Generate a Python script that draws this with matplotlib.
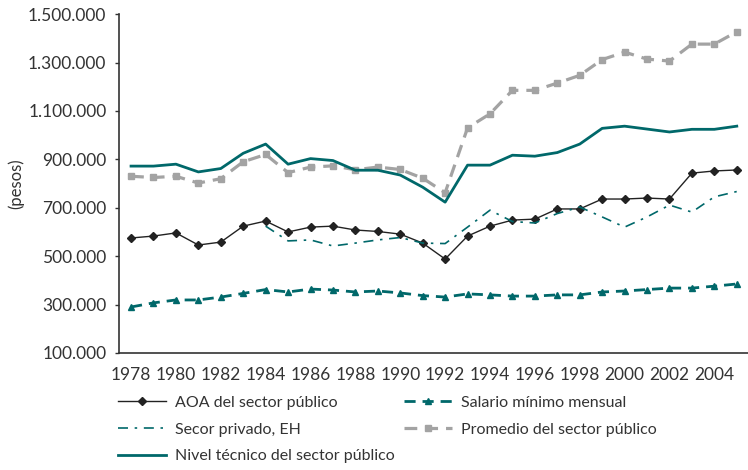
import matplotlib
matplotlib.use("Agg")
import matplotlib.pyplot as plt
from matplotlib.ticker import FuncFormatter

years = list(range(1978, 2006))

aoa = [575, 583, 596, 546, 558, 624, 645, 600, 620, 624, 608, 602, 591, 554, 488,
       583, 624, 649, 653, 695, 695, 736, 736, 740, 736, 843, 852, 856]
salario = [290, 307, 319, 319, 331, 346, 362, 352, 364, 360, 352, 356, 348, 337, 331,
           344, 340, 335, 335, 340, 340, 352, 356, 362, 368, 368, 376, 385]
privado_years = list(range(1984, 2006))
privado = [624, 563, 567, 542, 554, 567, 577, 554, 552, 620, 690, 643, 637, 676, 703,
           662, 620, 662, 711, 682, 745, 767]
promedio = [830, 825, 830, 802, 820, 890, 920, 845, 868, 873, 857, 868, 858, 822, 762,
            1030, 1088, 1185, 1185, 1215, 1247, 1312, 1343, 1314, 1306, 1376, 1376, 1427]
nivel = [872, 872, 880, 848, 862, 925, 963, 880, 903, 895, 855, 855, 835, 785, 723,
         876, 876, 917, 913, 928, 963, 1028, 1037, 1025, 1013, 1024, 1024, 1037]

labels = ["AOA del sector público", "Salario mínimo mensual", "Secor privado, EH",
          "Promedio del sector público", "Nivel técnico del sector público"]
xticks = list(range(1978, 2005, 2))
yticks = [100000, 300000, 500000, 700000, 900000, 1100000, 1300000, 1500000]

plt.rcParams['font.family'] = ['Lato', 'DejaVu Sans']
teal = "#00686a"
gray = "#a3a3a3"
txt = "#333333"

fig = plt.figure(figsize=(7.48, 4.70), dpi=100)
ax = fig.add_axes([0.159, 0.249, 0.841, 0.721])

k = 1000
h_aoa, = ax.plot(years, [v * k for v in aoa], color="#222222", lw=1.0, marker="D",
                 ms=3.8, zorder=5)
h_sal, = ax.plot(years, [v * k for v in salario], color=teal, lw=2.0, ls=(0, (4, 2.5)),
                 marker="^", ms=5, zorder=4)
h_pri, = ax.plot(privado_years, [v * k for v in privado], color=teal, lw=1.2,
                 ls=(0, (6, 4, 1.5, 4)), zorder=6)
h_pro, = ax.plot(years, [v * k for v in promedio], color=gray, lw=2.3, ls=(0, (4, 2.5)),
                 marker="s", ms=4.5, zorder=3)
h_niv, = ax.plot(years, [v * k for v in nivel], color=teal, lw=2.0, zorder=4)

ax.set_xlim(1977.46, 2005.5)
ax.set_ylim(100000, 1500000)
ax.set_yticks(yticks)
ax.set_xticks(xticks)
ax.yaxis.set_major_formatter(FuncFormatter(lambda v, p: f"{int(v):,}".replace(",", ".")))
for s in ["top", "right"]:
    ax.spines[s].set_visible(False)
for s in ["left", "bottom"]:
    ax.spines[s].set_color("#333333")
    ax.spines[s].set_linewidth(1.2)
ax.tick_params(axis="y", length=3, width=1, colors="#333333", labelsize=12.5,
               labelcolor=txt, pad=6)
ax.tick_params(axis="x", length=0, labelsize=12.5, labelcolor=txt, pad=10)
ax.set_ylabel("(pesos)", fontsize=12, color=txt)
ax.yaxis.set_label_coords(-0.15, 0.5)

common = dict(frameon=False, fontsize=11.5, handlelength=3.0, labelspacing=0.78,
              handletextpad=0.55, borderaxespad=0, borderpad=0, loc="upper left")
leg1 = fig.legend([h_aoa, h_pri, h_niv], [labels[0], labels[2], labels[4]],
                  bbox_to_anchor=(0.158, 0.158), **common)
leg2 = fig.legend([h_sal, h_pro], [labels[1], labels[3]],
                  bbox_to_anchor=(0.54, 0.158), **common)
for leg in (leg1, leg2):
    for t in leg.get_texts():
        t.set_color(txt)

fig.savefig("out.png", dpi=100)
